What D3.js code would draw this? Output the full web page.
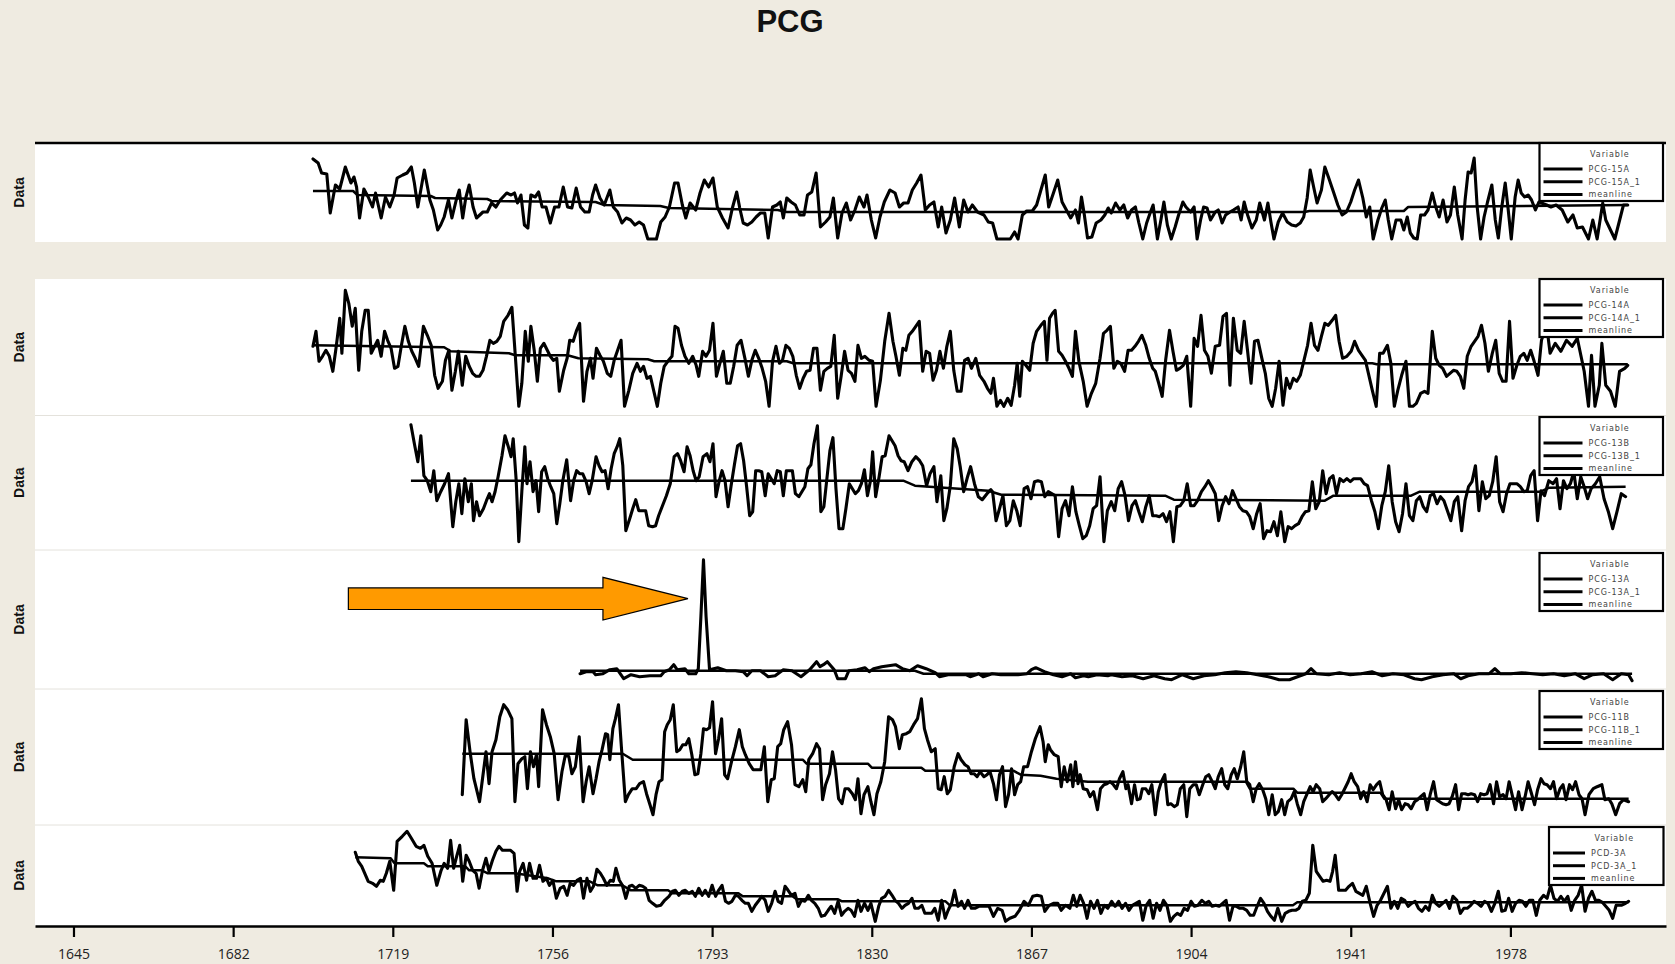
<!DOCTYPE html>
<html><head><meta charset="utf-8">
<script src="https://cdn.jsdelivr.net/npm/d3@7"></script>
<style>
html,body{margin:0;padding:0;background:#EFEBE1;}
svg{display:block;}
</style></head>
<body>
<svg id="chart" width="1675" height="964"></svg>
<script>
// ---------------- DATA ----------------
const chartTitle = "PCG";
const yLabel = "Data";
const tickYears = [1645,1682,1719,1756,1793,1830,1867,1904,1941,1978];
const seriesNames = ["PCG-15A","PCG-14A","PCG-13B","PCG-13A","PCG-11B","PCD-3A"];

const PCG15A = [[1700.5,81],[1701.7,77],[1702.5,67],[1703.7,66],[1704.5,27],[1705.7,55],[1706.7,51],[1708,73],[1709.3,57],[1710,63],[1710.6,53],[1711.3,22],[1712.3,51],[1713.3,43],[1714.3,33],[1715,47],[1716.3,22],[1717.3,43],[1718.3,33],[1719.3,45],[1720,62],[1721.3,65],[1722.3,67],[1723.3,73],[1724,57],[1724.8,33],[1726.3,70],[1727.6,40],[1728.4,30],[1729.4,10],[1730.1,15],[1730.9,23],[1731.9,40],[1732.7,22],[1733.7,40],[1734.4,50],[1735.2,22],[1735.9,42],[1736.7,55],[1737.6,33],[1738.4,22],[1739.9,28],[1740.9,28],[1741.9,37],[1742.9,33],[1743.9,40],[1745.4,47],[1746.4,45],[1747.2,47],[1747.9,37],[1748.7,45],[1749.5,15],[1750.3,12],[1751,45],[1752,43],[1752.8,48],[1753.6,33],[1754.5,33],[1755.5,17],[1756.5,33],[1757.5,33],[1758.5,53],[1759.5,33],[1760.5,32],[1761.5,52],[1762.5,33],[1763.5,28],[1764.5,28],[1765.3,45],[1766,55],[1767,42],[1768,35],[1769.3,50],[1770.1,33],[1771.1,28],[1772.1,17],[1773.1,22],[1774.1,20],[1775.1,15],[1776.1,18],[1777.1,15],[1778.1,1],[1779.3,1],[1780.1,1],[1781.1,18],[1782.1,23],[1783.1,33],[1784.3,57],[1785.1,57],[1786.1,35],[1786.9,22],[1787.9,37],[1789.2,30],[1790.2,47],[1791.2,60],[1792.2,53],[1793.2,62],[1794.2,33],[1795.4,22],[1796.7,12],[1797.7,32],[1798.7,48],[1799.4,32],[1800.2,17],[1801.2,15],[1802.2,18],[1803.2,23],[1804.2,27],[1805.2,27],[1806,2],[1807,33],[1808,35],[1808.8,38],[1809.5,22],[1810.3,42],[1811.3,38],[1812.3,35],[1813.3,25],[1814.3,25],[1815.1,45],[1816.1,48],[1817.1,67],[1818.1,13],[1819.3,18],[1820.3,23],[1821.1,42],[1822.1,2],[1823.1,27],[1824.1,37],[1825.1,20],[1826.1,30],[1827.1,43],[1828.2,33],[1828.9,45],[1829.9,20],[1830.9,2],[1831.9,23],[1832.9,38],[1834.2,50],[1835.4,47],[1836.4,33],[1837.4,37],[1838.4,37],[1839.4,50],[1840.4,57],[1841.4,65],[1842.4,30],[1843.4,35],[1844.4,38],[1845.4,13],[1846.2,33],[1847.2,7],[1848.2,20],[1849.2,42],[1850.3,13],[1851.3,40],[1852.3,28],[1853.3,35],[1854.5,28],
[1856,25],[1857,18],[1858,17],[1859,1],[1860.5,1],[1862.1,1],[1863.1,8],[1863.9,1],[1864.9,25],[1865.9,29],[1867.2,29],[1868.2,35],[1869.2,50],[1870.2,65],[1871,33],[1872.1,47],[1873.1,60],[1874.1,38],[1875.1,30],[1876.1,22],[1877.2,30],[1877.9,17],[1878.6,43],[1879.2,27],[1880,2],[1881,3],[1882,17],[1883.1,20],[1884,25],[1884.8,32],[1885.5,27],[1886.5,37],[1887.5,30],[1888.4,35],[1889.3,22],[1890.2,30],[1891.1,33],[1891.9,17],[1892.8,1],[1893.7,17],[1894.5,27],[1895.2,35],[1896.2,1],[1897,20],[1897.7,38],[1898.5,15],[1899.4,1],[1900.3,13],[1901.1,25],[1902.1,38],[1902.8,33],[1903.9,28],[1904.7,33],[1905.4,1],[1906.2,20],[1906.9,33],[1907.7,32],[1908.5,20],[1909.6,28],[1910.3,30],[1911.2,17],[1912,25],[1913,28],[1913.8,30],[1914.9,33],[1915.6,20],[1916.3,38],[1917.1,25],[1918.1,12],[1919.1,20],[1919.9,37],[1921,20],[1921.8,37],[1922.5,18],[1923.2,1],[1924.2,18],[1925.2,27],[1926.3,18],[1927.3,15],[1928.3,14],[1929.3,17],[1930.1,23],[1930.9,42],[1931.6,70],[1932.4,53],[1933.2,37],[1934.2,50],[1935,73],[1935.9,62],[1937,48],[1938,35],[1939,25],[1940,28],[1941,38],[1941.9,50],[1942.8,60],[1943.8,42],[1944.6,23],[1945.4,33],[1946.2,1],[1947.3,20],[1948.2,32],[1949,40],[1949.7,20],[1950.5,1],[1951.5,20],[1952.6,20],[1953.3,10],[1954.1,23],[1954.8,7],[1955.6,2],[1956.4,1],[1957.2,25],[1958.1,25],[1958.9,30],[1959.9,47],[1960.7,33],[1961.5,23],[1962.4,40],[1963.3,18],[1964.1,25],[1965,53],[1965.8,25],[1966.8,1],[1967.5,40],[1968.2,68],[1968.9,67],[1969.6,82],[1970.3,33],[1971.1,1],[1971.9,23],[1972.7,38],[1973.7,55],[1974.5,20],[1975.2,2],[1976,33],[1976.8,57],[1977.5,30],[1978.2,1],[1979.1,43],[1979.8,60],[1980.5,47],[1981.3,43],[1982.1,45],[1982.9,40],[1983.8,30],[1984.6,38],[1986.4,35],[1987.4,33],[1988.6,35],[1990,30],[1991.3,18],[1992.5,25],[1993.5,12],[1994.7,13],[1996.1,1],[1997.1,20],[1998.1,1],[1999.4,37],[2000.1,20],[2001.2,10],[2002.2,1],[2003.2,18],[2004.2,35],[2005.2,35]];
const PCG15A_mean = [[1700.5,49],[1709.8,49],[1710.8,45],[1727.8,44],[1728.8,42],[1740.9,41],[1741.9,39],[1766,38],[1768,35],[1781,34],[1783,32],[1808.2,30],[1810.3,28],[1930.3,28],[1931.4,29],[1953.3,29],[1954.3,33],[2005.2,35]];

const PCG14A = [[1700.5,62],[1701.2,77],[1701.9,47],[1702.7,52],[1703.5,58],[1704.3,52],[1705.1,37],[1705.9,62],[1706.7,90],[1707.2,55],[1708,118],[1708.8,105],[1709.6,82],[1710.3,100],[1711.1,38],[1711.8,77],[1712.6,98],[1713.3,98],[1714,55],[1714.8,62],[1715.5,68],[1716.3,52],[1717.1,77],[1717.8,68],[1718.6,60],[1719.4,40],[1720.2,42],[1721,63],[1721.8,82],[1722.6,67],[1723.4,57],[1724.2,50],[1725,42],[1726.1,82],[1727,73],[1727.9,63],[1728.7,33],[1729.5,20],[1730.5,27],[1731.2,48],[1732,58],[1732.7,18],[1733.5,37],[1734.2,57],[1735.1,23],[1735.9,52],[1736.7,42],[1737.5,35],[1738.3,32],[1739.1,32],[1739.9,38],[1740.7,52],[1741.5,68],[1742.3,65],[1743.1,67],[1743.9,72],[1744.7,87],[1745.7,93],[1746.6,101],[1747.4,52],[1748.2,2],[1748.9,25],[1749.7,77],[1750.4,47],[1751,82],[1751.8,57],[1752.5,27],[1753.2,60],[1754,65],[1754.8,58],[1755.5,52],[1756.2,48],[1757,50],[1757.6,17],[1758.6,38],[1759.4,50],[1760,68],[1760.8,67],[1761.6,78],[1762.3,85],[1763.2,7],[1764,37],[1764.8,50],[1765.4,30],[1766.2,60],[1767,53],[1767.8,47],[1768.7,35],[1769.5,32],[1770.3,48],[1771.1,58],[1771.9,68],[1772.7,2],[1773.7,18],[1774.6,35],[1775.6,45],[1776.4,37],[1777.1,42],[1777.9,30],[1778.7,32],[1779.5,17],[1780.3,2],[1781.1,25],[1781.9,42],[1782.9,48],[1783.7,52],[1784.4,82],[1785.1,80],[1785.9,63],[1786.7,52],[1787.6,45],[1788.5,52],[1789.3,43],[1789.9,32],[1790.8,57],[1791.6,52],[1792.4,58],[1793.2,85],[1794,32],[1794.8,45],[1795.6,57],[1796.4,25],[1797.2,25],[1798,42],[1798.8,63],[1799.7,68],[1800.6,50],[1801.4,32],[1802.2,48],[1803,58],[1803.8,50],[1804.6,40],[1805.4,27],[1806.2,2],[1807,47],[1807.8,62],[1808.6,45],[1809.3,48],[1810.1,63],[1810.9,60],[1811.7,52],[1812.5,33],[1813.3,20],[1814.1,30],[1814.9,37],[1815.7,38],[1816.5,60],[1817.3,60],[1818.1,18],[1818.9,37],[1819.7,40],[1820.5,42],[1821.3,73],[1822.1,10],[1822.9,32],[1823.7,57],[1824.5,38],[1825.3,35],[1826.1,27],[1826.8,63],[1827.6,50],[1828.4,52],[1829.4,48],[1830.2,47],[1831,2],[1832,28],[1833,67],[1834,95],[1834.9,67],[1835.6,52],[1836.4,33],[1837.2,60],[1837.9,58],[1838.6,73],[1839.4,77],[1840.2,82],[1841,87],[1841.8,37],[1842.6,57],[1843.4,55],[1844.2,28],[1845,38],[1845.8,57],[1846.6,40],[1847.4,62],[1848.2,77],[1849,38],[1849.8,17],[1850.7,17],[1851.5,48],[1852.3,50],[1853.1,40],[1854.1,50],[1855,33],
[1856,27],[1856.8,20],[1857.6,15],[1858.2,30],[1859,2],[1859.8,8],[1860.6,2],[1861.5,10],[1862.3,3],[1863.1,23],[1863.7,45],[1864.3,12],[1864.9,47],[1865.7,43],[1866.6,38],[1867.4,65],[1868.2,77],[1869.2,83],[1870,87],[1870.6,48],[1871.2,90],[1871.9,95],[1872.5,98],[1873.3,57],[1874.1,53],[1874.9,47],[1875.7,40],[1876.5,32],[1877.2,77],[1878,47],[1879,27],[1879.9,2],[1880.9,15],[1881.9,25],[1882.9,50],[1883.7,75],[1884.5,78],[1885.3,82],[1886.1,40],[1886.9,47],[1887.7,45],[1888.6,37],[1889.4,58],[1890.2,58],[1891,62],[1891.8,67],[1892.6,73],[1893.5,63],[1894.3,50],[1895.1,40],[1895.7,37],[1896.5,25],[1897.3,12],[1898.1,48],[1899,78],[1899.8,57],[1900.6,38],[1901.4,40],[1902.2,43],[1903,52],[1903.9,2],[1904.7,70],[1905.5,62],[1906.3,93],[1907.1,58],[1907.9,52],[1908.7,35],[1909.6,62],[1910.6,63],[1911.4,92],[1912.2,95],[1913,23],[1913.8,90],[1914.7,58],[1915.5,55],[1916.3,87],[1917.1,57],[1917.9,25],[1918.7,67],[1919.5,68],[1920.4,50],[1921.2,35],[1922,10],[1922.8,2],[1923.6,20],[1924.4,47],[1925.3,3],[1926.1,30],[1926.9,20],[1927.7,30],[1928.5,27],[1929.3,33],[1930.1,47],[1931,63],[1931.8,85],[1932.6,63],[1933.4,58],[1934.2,72],[1935,85],[1935.8,83],[1936.7,88],[1937.5,93],[1938.3,67],[1939.1,50],[1940.1,52],[1941.1,57],[1941.9,67],[1942.8,58],[1943.6,53],[1944.4,48],[1945.2,33],[1946,18],[1946.9,2],[1947.7,55],[1948.5,55],[1949.5,63],[1950.3,45],[1951.1,2],[1951.9,18],[1952.8,33],[1953.8,47],[1954.6,2],[1955.4,2],[1956.2,5],[1957.2,15],[1958.1,17],[1958.9,15],[1959.9,77],[1960.7,50],[1961.5,43],[1962.3,40],[1963.2,32],[1964,35],[1964.8,38],[1965.6,37],[1966.4,32],[1967.2,20],[1968,52],[1968.9,62],[1969.7,67],[1970.5,72],[1971.3,83],[1972.1,65],[1972.9,37],[1973.8,55],[1974.6,68],[1975.4,35],[1976.2,27],[1977,27],[1977.8,87],[1978.6,30],[1979.5,43],[1980.3,52],[1981.1,55],[1981.9,48],[1982.7,58],[1983.5,47],[1984.4,33],[1985.2,68],[1986.4,83],[1987.2,55],[1988.4,65],[1989.7,57],[1991,68],[1992.3,62],[1993.5,70],[1995.1,37],[1996.1,2],[1996.8,53],[1997.6,2],[1998.6,23],[1999.2,65],[2000.1,23],[2001.2,17],[2002.3,2],[2003.3,37],[2004.5,40],[2005.2,43]];
const PCG14A_mean = [[1700.5,63],[1730.9,61],[1732.4,57],[1745.9,55],[1747.4,53],[1759.5,53],[1762,50],[1778.1,49],[1779.6,47],[1810.3,47],[1811.8,45],[1946,45],[1947,44],[2005.2,44]];

const PCG13B = [[1723.2,119],[1724,100],[1724.8,82],[1725.5,108],[1726.2,68],[1727,63],[1727.8,52],[1728.5,73],[1729.2,43],[1730.1,52],[1731,60],[1731.9,70],[1732.9,17],[1733.6,42],[1734.3,60],[1735,30],[1735.7,65],[1736.5,42],[1737.2,60],[1737.7,23],[1738.4,42],[1739.1,28],[1740,35],[1740.7,43],[1741.4,50],[1742,42],[1742.7,52],[1743.4,67],[1744.3,88],[1745,108],[1745.7,98],[1746.4,87],[1746.9,105],[1747.6,63],[1748.2,2],[1748.9,52],[1749.6,97],[1750.1,60],[1750.8,82],[1751.5,52],[1752.2,63],[1752.8,32],[1753.5,72],[1754.2,77],[1754.9,65],[1755.6,57],[1756.3,50],[1757,20],[1757.7,40],[1758.4,63],[1759.3,84],[1760.2,43],[1760.9,63],[1761.6,73],[1762.3,70],[1763,70],[1763.8,62],[1764.5,50],[1765.2,63],[1766.1,87],[1766.8,78],[1767.5,72],[1768.2,73],[1768.9,55],[1769.6,75],[1770.3,90],[1771,97],[1771.6,105],[1772.3,78],[1773,13],[1773.9,25],[1774.6,35],[1775.3,44],[1776,33],[1776.7,33],[1777.6,33],[1778.3,18],[1779.2,17],[1779.9,18],[1780.6,28],[1781.5,38],[1782.4,48],[1783.3,60],[1784.2,87],[1785,90],[1785.7,83],[1786.5,72],[1787.2,97],[1787.9,88],[1788.6,73],[1789.3,63],[1790,67],[1790.9,87],[1791.8,90],[1792.5,82],[1793.2,100],[1793.9,47],[1794.6,62],[1795.3,73],[1796,63],[1796.7,37],[1797.4,58],[1798.2,80],[1798.9,98],[1799.6,100],[1800.3,83],[1801,57],[1801.7,28],[1802.4,32],[1803.1,73],[1803.8,73],[1804.5,72],[1805.3,48],[1806,70],[1806.7,65],[1807.4,60],[1808.1,73],[1808.8,72],[1809.5,48],[1810.2,73],[1810.9,73],[1811.6,73],[1812.3,50],[1813.1,47],[1813.8,52],[1814.5,57],[1815.2,75],[1815.9,79],[1816.6,100],[1817.4,118],[1818.2,32],[1818.9,37],[1819.6,65],[1820.3,93],[1821,106],[1821.7,55],[1822.4,15],[1823.3,15],[1824,35],[1824.8,60],[1825.5,55],[1826.2,50],[1826.9,53],[1827.6,60],[1828.3,74],[1829,48],[1829.7,63],[1830.2,92],[1830.9,47],[1831.7,67],[1832.4,87],[1833.1,88],[1834,108],[1834.7,103],[1835.4,98],[1836.1,88],[1836.8,83],[1837.5,82],[1838.4,73],[1839.3,82],[1840.2,87],[1841.1,83],[1841.8,78],[1842.7,58],[1843.5,70],[1844.4,77],[1845.1,42],[1846,68],[1846.7,23],[1847.4,35],[1848.2,58],[1849,105],[1849.8,95],[1850.5,77],[1851.3,52],[1852.2,67],[1852.9,77],[1853.8,60],[1854.7,47],[1855.6,44],[1856.7,50],[1857.6,54],
[1858,52],[1858.8,23],[1859.6,35],[1860.4,48],[1861.2,18],[1862,23],[1862.8,43],[1863.6,33],[1864.4,18],[1865.3,55],[1866.1,57],[1866.9,45],[1867.7,62],[1868.5,63],[1869.3,62],[1870.1,47],[1870.9,52],[1871.7,50],[1872.5,48],[1873.3,7],[1874.1,35],[1874.9,43],[1875.7,28],[1876.5,57],[1877.3,32],[1878.1,18],[1878.9,5],[1879.7,8],[1880.5,18],[1881.3,35],[1882.1,38],[1882.9,67],[1883.8,2],[1884.6,33],[1885.5,42],[1886.3,33],[1887.1,55],[1887.9,62],[1888.7,48],[1889.5,23],[1890.3,38],[1891.1,43],[1891.9,32],[1892.7,22],[1893.5,37],[1894.3,48],[1895.1,28],[1895.9,28],[1896.7,27],[1897.5,30],[1898.3,22],[1899.1,32],[1899.9,2],[1900.7,37],[1901.5,38],[1902.3,43],[1903.1,60],[1903.9,38],[1904.7,38],[1905.5,43],[1906.4,52],[1907.2,57],[1908,63],[1908.8,57],[1909.6,50],[1910.4,23],[1911.2,38],[1912,47],[1912.8,40],[1913.6,53],[1914.4,45],[1915.2,37],[1916,33],[1916.8,32],[1917.6,27],[1918.4,15],[1919.2,30],[1920,40],[1920.8,5],[1921.6,13],[1922.4,12],[1923.2,22],[1924,8],[1924.8,32],[1925.7,2],[1926.5,17],[1927.3,15],[1928.1,18],[1928.9,20],[1929.7,27],[1930.5,32],[1931.3,33],[1932.1,62],[1932.9,35],[1933.7,42],[1934.5,73],[1935.3,50],[1936.1,65],[1936.9,68],[1937.7,50],[1938.5,65],[1939.3,62],[1940.1,65],[1940.9,62],[1941.7,65],[1942.5,65],[1943.3,65],[1944.1,60],[1944.9,58],[1945.8,43],[1946.6,32],[1947.4,15],[1948.2,38],[1949,52],[1949.8,78],[1950.6,42],[1951.4,22],[1952.2,12],[1953,30],[1953.8,60],[1954.6,28],[1955.4,23],[1956.2,43],[1957,47],[1957.8,37],[1958.6,32],[1959.4,48],[1960.2,50],[1961,40],[1961.8,47],[1962.6,43],[1963.4,33],[1964.2,23],[1965,42],[1965.8,47],[1966.7,13],[1967.5,43],[1968.3,57],[1969.1,62],[1969.9,78],[1970.7,33],[1971.5,62],[1972.3,45],[1973.1,48],[1973.9,62],[1974.7,87],[1975.5,42],[1976.3,32],[1977.1,50],[1977.9,60],[1978.7,60],[1979.5,60],[1980.3,57],[1981.1,52],[1981.9,53],[1982.7,68],[1983.5,73],[1984.3,23],[1985.1,53],[1985.9,48],[1986.9,63],[1987.9,60],[1988.7,65],[1989.5,35],[1990.3,63],[1991.1,55],[1991.9,60],[1992.7,72],[1993.5,45],[1994.3,67],[1995.1,57],[1995.9,45],[1996.7,55],[1997.7,60],[1998.7,67],[1999.7,45],[2000.7,32],[2001.7,15],[2002.7,32],[2003.7,50],[2004.7,47]];
const PCG13B_mean = [[1723.2,63],[1837.3,63],[1840,58],[1857,53],[1860,49],[1898,48],[1900,44],[1935,43],[1937,48],[1955,48],[1957,52],[1985,52],[1987,56],[2004.7,57]];

const PCG13A = [[1762.4,8],[1763.8,10],[1765.4,10],[1766,7],[1767.7,8],[1769.3,12],[1770.9,13],[1772.5,3],[1774.2,7],[1776.2,5],[1778.6,6],[1781.1,6],[1781.9,10],[1783.1,12],[1784.1,17],[1784.9,12],[1786.7,13],[1787.6,8],[1789.2,8],[1789.8,13],[1790.4,65],[1791,122],[1791.6,65],[1792.4,12],[1794.3,14],[1796.3,11],[1798.4,11],[1800.2,10],[1801.1,6],[1802.2,11],[1804.2,11],[1806,5],[1807.6,6],[1809.5,12],[1811.5,11],[1813.6,5],[1815.6,12],[1817.2,20],[1818,15],[1818.8,17],[1819.7,20],[1821.3,12],[1822.1,3],[1823.9,3],[1824.7,11],[1826.6,12],[1828.4,14],[1829.4,10],[1830.4,13],[1832.3,15],[1833.9,16],[1835.5,17],[1837.1,13],[1838.8,11],[1840.6,16],[1842.6,13],[1844.7,9],[1845.7,5],[1847.7,7],[1849.7,7],[1851.8,7],[1852.8,5],[1854.8,8],[1855.8,5],[1857.9,8],[1859.9,7],[1861.9,7],[1863.9,7],[1866,8],[1867,12],[1868,14],[1870,10],[1872.1,7],[1874.1,5],[1876.1,8],[1877.2,4],[1879.1,6],[1880.2,5],[1882.2,7],[1884.7,6],
[1885.5,7],[1888,5],[1890.4,6],[1892.9,3],[1895.4,6],[1897.9,3],[1899.5,2],[1902,7],[1904.5,3],[1907,6],[1909.5,7],[1911.9,9],[1914.4,10],[1916.9,9],[1919.4,7],[1921.9,5],[1924.4,2],[1926.8,2],[1929.3,6],[1930.6,8],[1931.8,13],[1933,8],[1935.9,7],[1938.4,9],[1940.9,7],[1943.4,8],[1945.9,10],[1948.3,6],[1950.8,8],[1953.3,7],[1955.8,3],[1957.4,2],[1959.9,5],[1962.4,7],[1964.9,8],[1966.5,3],[1968.2,6],[1970.7,8],[1973.1,8],[1974.4,13],[1975.6,8],[1978.1,8],[1980.6,9],[1983.1,8],[1985.5,7],[1988,8],[1990.5,6],[1993,8],[1995.1,3],[1997.1,7],[1999.6,8],[2001.7,2],[2003.7,8],[2005.4,7],[2006.2,1]];
const PCG13A_mean = [[1762.4,11],[1840,11],[1842,8],[2006.2,8]];

const PCG11B = [[1735.1,22],[1736,97],[1736.9,65],[1737.8,38],[1739.1,15],[1740,45],[1740.6,65],[1741.3,33],[1742,65],[1742.9,77],[1743.8,100],[1744.7,112],[1745.6,107],[1746.6,98],[1747.3,15],[1748,53],[1748.9,58],[1749.6,60],[1750.2,28],[1750.9,65],[1751.6,50],[1752.3,62],[1752.8,30],[1753.7,107],[1754.6,92],[1755.5,80],[1756.4,63],[1757.3,17],[1758.2,45],[1759,62],[1759.8,60],[1760.5,43],[1761.3,50],[1762.2,80],[1763.1,15],[1763.8,35],[1764.5,50],[1765.4,23],[1766.1,38],[1766.8,55],[1767.5,67],[1768.3,83],[1768.8,82],[1769.3,57],[1770,88],[1770.6,98],[1771.3,112],[1772,68],[1772.9,15],[1773.6,22],[1774.5,28],[1775.4,28],[1776.2,33],[1777.1,35],[1777.8,23],[1778.6,12],[1779.3,2],[1780,22],[1780.7,35],[1781.4,37],[1782,85],[1782.6,92],[1783.3,97],[1784,112],[1784.8,65],[1785.5,67],[1786.2,72],[1786.9,72],[1787.6,78],[1788.3,62],[1789,42],[1789.7,43],[1790.4,63],[1791,88],[1791.7,87],[1792.4,89],[1793.1,115],[1793.8,63],[1794.5,78],[1795.2,98],[1795.9,42],[1796.6,38],[1797.5,55],[1798.4,70],[1799.3,87],[1800,70],[1800.7,62],[1801.6,53],[1802.5,47],[1803.4,47],[1804.3,47],[1805.1,70],[1805.9,15],[1806.7,37],[1807.4,38],[1808.2,70],[1808.9,73],[1809.6,87],[1810.5,95],[1811.4,72],[1812.2,32],[1813.1,30],[1814,37],[1814.7,25],[1815.4,57],[1816.3,63],[1817.2,73],[1817.9,68],[1818.6,17],[1819.3,32],[1820.2,43],[1820.9,65],[1821.6,47],[1822.3,18],[1823.1,13],[1823.8,28],[1824.6,28],[1825.5,23],[1826.2,17],[1826.8,38],[1827.5,3],[1828.2,22],[1829.1,30],[1829.8,15],[1830.5,2],[1831.2,23],[1832.1,35],[1833,55],[1833.9,100],[1834.8,97],[1835.5,90],[1836.4,68],[1837.1,82],[1838,83],[1838.8,85],[1839.7,92],[1840.6,98],[1841.5,118],[1842.2,88],[1842.9,77],[1843.8,65],[1844.7,68],[1845.4,28],[1846.1,27],[1846.8,40],[1847.5,23],[1848.2,27],[1849.1,50],[1850,63],[1850.7,57],[1851.6,52],[1852.3,50],[1853,43],[1853.7,43],[1854.4,40],[1855.1,45],[1856,40],[1856.7,42],[1857.4,45],[1858.2,33],[1858.9,17],[1859.6,42],[1860.3,50],[1861,10],[1861.7,22],[1862.4,48],[1863.1,22],[1863.8,32],[1864.5,35],[1865.2,50],[1866.1,50],[1867,65],[1867.9,78],[1869,90],[1869.7,75],[1870.2,55],[1870.9,72],
[1871.4,67],[1872.3,62],[1873.2,60],[1873.9,30],[1874.6,50],[1875.3,35],[1876.1,52],[1876.6,30],[1877.2,55],[1877.8,33],[1878.3,42],[1879,28],[1879.9,27],[1880.6,20],[1881.4,25],[1882.3,7],[1883,28],[1883.8,32],[1884.5,33],[1885.2,35],[1886,32],[1886.7,28],[1887.4,38],[1888.2,45],[1888.9,28],[1889.4,32],[1890.2,13],[1890.9,32],[1891.5,17],[1892.2,18],[1892.7,28],[1893.5,28],[1894.2,23],[1894.9,32],[1895.7,2],[1896.4,25],[1897.1,35],[1897.9,42],[1898.6,12],[1899.3,13],[1900.1,10],[1900.8,12],[1901.5,28],[1902.3,32],[1903,0],[1903.7,28],[1904.5,32],[1905.2,32],[1905.9,22],[1906.7,32],[1907.4,40],[1908.1,42],[1908.9,35],[1909.6,28],[1910.3,40],[1911.1,48],[1911.8,32],[1912.5,28],[1913.3,42],[1914,48],[1914.7,38],[1915.5,50],[1916.2,65],[1916.9,35],[1917.6,32],[1918.4,15],[1919.1,28],[1919.8,33],[1920.6,27],[1921.3,18],[1922,2],[1922.8,22],[1923.5,2],[1924.2,5],[1925,17],[1925.7,2],[1926.4,15],[1927.2,18],[1927.9,25],[1928.6,13],[1929.4,2],[1930.1,15],[1930.8,22],[1931.6,30],[1932.3,25],[1933,32],[1933.8,28],[1934.5,15],[1935.2,18],[1936,22],[1936.7,25],[1937.4,22],[1938.2,17],[1938.9,22],[1939.6,28],[1940.4,35],[1941.1,43],[1941.8,35],[1942.6,30],[1943.3,18],[1944,25],[1944.8,15],[1945.5,32],[1946.2,27],[1947,32],[1947.7,35],[1948.4,22],[1949.2,17],[1949.9,7],[1950.6,25],[1951.4,8],[1952.1,17],[1952.8,7],[1953.6,13],[1954.3,12],[1955,8],[1955.8,15],[1956.5,17],[1957.2,20],[1958,23],[1958.7,7],[1959.4,22],[1960.2,35],[1960.9,17],[1961.6,15],[1962.3,13],[1963.1,12],[1963.8,13],[1964.5,20],[1965.3,32],[1966,7],[1966.7,23],[1967.5,23],[1968.2,22],[1968.9,23],[1969.7,22],[1970.4,15],[1971.1,23],[1971.9,22],[1972.6,23],[1973.3,32],[1974.1,13],[1974.8,35],[1975.5,20],[1976.3,22],[1977,18],[1977.7,35],[1978.5,20],[1979.2,7],[1979.9,25],[1980.7,7],[1981.4,20],[1982.1,35],[1982.9,23],[1983.6,12],[1984.3,27],[1985.1,38],[1985.8,33],[1986.5,32],[1987.3,28],[1988,35],[1988.7,18],[1989.5,28],[1990.2,32],[1990.9,17],[1991.7,32],[1992.4,27],[1993.1,35],[1993.9,22],[1994.6,18],[1995.3,2],[1996.2,22],[1997.2,28],[1998.1,30],[1999.2,32],[1999.9,17],[2000.8,18],[2001.5,13],[2002.4,2],[2003.3,13],[2004.2,17],[2005.4,15]];
const PCG11B_mean = [[1735.1,63],[1772.3,63],[1774.6,57],[1814,57],[1814.9,53],[1829.1,53],[1830,49],[1841.5,49],[1842.4,46],[1862.8,46],[1864.5,42],[1869.1,41],[1872.8,38],[1880.1,35],[1916.7,35],[1917.6,28],[1927.7,28],[1928.6,24],[1947.9,24],[1948.8,18],[2005.4,18]];

const PCD3A = [[1710.3,71],[1711,62],[1711.8,57],[1712.5,50],[1713.3,42],[1714.3,40],[1715.2,37],[1716.1,43],[1716.8,42],[1717.5,50],[1718.3,62],[1719.2,33],[1720,82],[1721.2,87],[1722.3,92],[1723.3,85],[1724.4,77],[1725.4,75],[1726.2,78],[1727.1,67],[1728.1,60],[1729.2,38],[1730.2,53],[1730.9,60],[1731.7,55],[1732.4,83],[1733.1,55],[1733.8,67],[1734.5,78],[1735.2,42],[1736,68],[1736.7,62],[1737.5,53],[1738.3,50],[1739,35],[1739.8,53],[1740.6,65],[1741.3,52],[1742.1,63],[1742.9,72],[1743.6,77],[1744.4,73],[1745.4,73],[1746.3,73],[1747.1,70],[1747.8,32],[1748.4,52],[1749.2,60],[1750,43],[1750.7,60],[1751.5,45],[1752.3,45],[1753,58],[1753.8,42],[1754.6,45],[1755.3,38],[1756.1,43],[1756.9,25],[1757.8,35],[1758.6,37],[1759.4,28],[1760.1,40],[1760.9,38],[1761.7,43],[1762.5,45],[1763.2,25],[1764,45],[1764.8,32],[1765.5,37],[1766.3,54],[1767.1,50],[1767.8,45],[1768.6,38],[1769.4,43],[1770.1,42],[1770.7,55],[1771.5,43],[1772.2,38],[1773,25],[1773.8,37],[1774.5,38],[1775.3,35],[1776.1,38],[1776.9,37],[1777.6,35],[1778.4,23],[1779.2,20],[1780.1,17],[1781.1,18],[1782,23],[1783,27],[1783.8,32],[1784.5,33],[1785.3,28],[1786.1,32],[1786.8,33],[1787.6,30],[1788.4,32],[1789.1,27],[1789.9,35],[1790.7,28],[1791.4,33],[1792.2,27],[1793,38],[1793.8,27],[1794.5,33],[1795.3,38],[1796.1,22],[1796.8,20],[1797.6,22],[1798.4,28],[1799.1,27],[1799.9,23],[1800.7,20],[1801.4,20],[1802.2,12],[1803,18],[1803.7,22],[1804.5,27],[1805.3,23],[1806,12],[1806.8,20],[1807.6,32],[1808.3,22],[1809.1,20],[1809.9,37],[1810.6,33],[1811.4,28],[1812.2,30],[1813,17],[1813.7,23],[1814.5,22],[1815.3,28],[1816,23],[1816.8,20],[1817.6,15],[1818.3,7],[1819.1,8],[1819.9,13],[1820.6,17],[1821.4,10],[1822.2,22],[1823,8],[1823.7,12],[1824.5,15],[1825.2,13],[1826,7],[1826.8,23],[1827.5,12],[1828.3,20],[1829.1,13],[1829.8,20],[1830.8,2],[1831.6,17],[1832.3,25],[1833.1,27],[1833.9,33],[1834.7,28],[1835.4,23],[1836.2,20],[1837,15],[1837.7,18],[1838.5,20],[1839.3,25],[1840,15],[1840.8,15],[1841.6,18],[1842.3,10],[1843.1,10],[1843.9,10],[1844.6,15],[1845.4,3],[1846.2,23],[1847,5],[1847.7,13],[1848.5,20],[1849.2,33],[1850,17],[1850.8,22],[1851.5,15],[1852.3,23],[1853.1,15],[1853.9,15],[1854.8,17],[1855.8,17],[1857.2,17],
[1858.2,7],[1859.2,15],[1860.2,13],[1861,2],[1862,5],[1863.2,7],[1864.2,13],[1865.3,22],[1866.3,18],[1867.3,27],[1868.3,28],[1869.3,27],[1870.1,12],[1871.1,18],[1872.1,20],[1873.1,20],[1873.9,13],[1874.9,18],[1875.9,15],[1876.7,28],[1877.5,17],[1878.3,28],[1879.1,20],[1879.9,5],[1880.7,22],[1881.5,15],[1882.3,23],[1883.1,10],[1883.9,18],[1884.7,15],[1885.6,22],[1886.4,17],[1887.2,22],[1888,15],[1888.8,20],[1889.6,13],[1890.4,18],[1891.2,20],[1892,22],[1892.8,3],[1893.6,18],[1894.4,23],[1895.2,5],[1896,20],[1896.8,13],[1897.6,23],[1898.4,18],[1899.2,2],[1900,7],[1900.8,10],[1901.6,8],[1902.4,15],[1903.2,13],[1904,22],[1904.8,17],[1905.6,18],[1906.5,23],[1907.3,20],[1908.1,22],[1908.9,17],[1909.7,18],[1910.5,17],[1911.3,20],[1912.1,23],[1912.9,3],[1913.7,17],[1914.5,17],[1915.3,15],[1916.1,15],[1916.9,13],[1917.7,8],[1918.5,8],[1919.3,17],[1920.1,25],[1920.9,20],[1921.7,12],[1922.5,7],[1923.3,3],[1924.1,15],[1925,2],[1925.8,10],[1926.6,12],[1927.4,13],[1928.2,13],[1929,15],[1929.8,22],[1930.6,23],[1931.4,30],[1932.2,78],[1933,52],[1933.8,47],[1934.6,42],[1935.4,43],[1936.2,42],[1936.8,52],[1937.4,68],[1938.2,33],[1939,33],[1939.8,33],[1940.6,37],[1941.4,40],[1942.2,32],[1943,30],[1943.8,28],[1944.6,37],[1945.5,20],[1946.3,7],[1947.1,18],[1947.9,23],[1948.7,30],[1949.5,37],[1950.3,15],[1951.1,22],[1951.9,15],[1952.7,25],[1953.5,23],[1954.3,17],[1955.1,20],[1955.9,22],[1956.7,15],[1957.5,12],[1958.3,17],[1959.1,13],[1959.9,28],[1960.7,20],[1961.5,17],[1962.3,20],[1963.1,23],[1963.9,15],[1964.7,27],[1965.6,23],[1966.4,10],[1967.2,15],[1968,15],[1968.8,18],[1969.6,22],[1970.4,20],[1971.2,17],[1972,22],[1972.8,20],[1973.6,12],[1974.4,20],[1975.2,32],[1976,12],[1976.8,13],[1977.6,25],[1978.4,12],[1979.2,20],[1980,23],[1980.8,22],[1981.6,17],[1982.4,23],[1983.2,23],[1984,8],[1984.8,23],[1985.7,28],[1986.5,25],[1987.3,38],[1988.1,25],[1988.9,22],[1989.7,27],[1990.5,22],[1991.3,27],[1992.1,13],[1992.9,23],[1993.7,28],[1994.5,38],[1995.3,12],[1996.1,25],[1996.9,32],[1997.7,23],[1998.5,23],[1999.3,21],[2000.1,17],[2000.9,13],[2001.7,5],[2002.5,18],[2003.7,18],[2004.7,20],[2005.4,22]];
const PCD3A_mean = [[1710.3,66],[1718.5,65],[1719.4,60],[1726.2,60],[1727.1,57],[1735.8,57],[1736.7,53],[1739.6,53],[1741,50],[1747.3,50],[1755,45],[1756.9,42],[1764.6,42],[1766.5,38],[1772.2,38],[1774.2,33],[1782.8,33],[1783.8,30],[1799.1,30],[1800.1,27],[1811.6,27],[1812.6,24],[1822.2,24],[1823.1,22],[1847.1,22],[1848.1,18],[1927.6,18],[1928.6,21],[2005.4,21]];

const seriesData = [PCG15A, PCG14A, PCG13B, PCG13A, PCG11B, PCD3A];
const meanData = [PCG15A_mean, PCG14A_mean, PCG13B_mean, PCG13A_mean, PCG11B_mean, PCD3A_mean];

// annotation arrow (years, value in PCG-13A panel units)
const arrowStartYear = 1708.7, arrowHeadYear = 1767.7, arrowTipYear = 1787.4, arrowValue = 83;

// ---------------- LAYOUT ----------------
const W = 1675, H = 964;
const plotLeft = 35, plotRight = 1666;
const panels = [
  {top:143,   bottom:242,   base:240,   legTop:143, legX:1539.5, legW:123.5},
  {top:279,   bottom:415.5, base:408.3, legTop:279, legX:1539.5, legW:123.5},
  {top:415.5, bottom:550,   base:543.7, legTop:417, legX:1539.5, legW:123.5},
  {top:550,   bottom:689,   base:681.7, legTop:553, legX:1539.5, legW:123.5},
  {top:689,   bottom:825,   base:816.7, legTop:691, legX:1539.5, legW:123.5},
  {top:825,   bottom:926,   base:923.3, legTop:827, legX:1549,   legW:114.5}
];

const svg = d3.select("#chart");
svg.append("rect").attr("width",W).attr("height",H).attr("fill","#EFEBE1");

const x = d3.scaleLinear().domain([1636.08, 2014.06]).range([plotLeft, plotRight]);

// panel backgrounds
panels.forEach(p => {
  svg.append("rect").attr("x",plotLeft).attr("y",p.top).attr("width",plotRight-plotLeft)
     .attr("height",p.bottom-p.top).attr("fill","#ffffff");
});
// faint separators
panels.forEach((p,i) => {
  if (i < 2) return;
  svg.append("line").attr("x1",plotLeft).attr("x2",plotRight).attr("y1",p.top).attr("y2",p.top)
     .attr("stroke","#e4e2dc").attr("stroke-width",1);
});
// top bold border of first panel
svg.append("line").attr("x1",plotLeft).attr("x2",plotRight).attr("y1",143).attr("y2",143)
   .attr("stroke","#000").attr("stroke-width",2.5);

// title
svg.append("text").attr("x",790).attr("y",32).attr("text-anchor","middle")
   .attr("font-family","'Liberation Sans', Arial, sans-serif").attr("font-weight","bold")
   .attr("font-size",31).attr("fill","#111").text(chartTitle);

// lines
panels.forEach((p,i) => {
  const y = d3.scaleLinear().domain([0,100]).range([p.base, p.base-100]);
  const line = d3.line().x(d=>x(d[0])).y(d=>y(d[1]));
  svg.append("path").datum(seriesData[i]).attr("d",line)
     .attr("fill","none").attr("stroke","#000").attr("stroke-width",3.1)
     .attr("stroke-linejoin","round").attr("stroke-linecap","round");
  svg.append("path").datum(meanData[i]).attr("d",line)
     .attr("fill","none").attr("stroke","#000").attr("stroke-width",2.5)
     .attr("stroke-linejoin","round");

  // y label
  const cy = (p.top + p.bottom)/2;
  svg.append("text").attr("transform",`translate(24,${cy}) rotate(-90)`)
     .attr("text-anchor","middle").attr("font-family","'Liberation Sans', Arial, sans-serif")
     .attr("font-weight","bold").attr("font-size",14).attr("fill","#111").text(yLabel);

  // legend
  const g = svg.append("g");
  const lt = p.legTop;
  g.append("rect").attr("x",p.legX).attr("y",lt).attr("width",p.legW).attr("height",58)
   .attr("fill","#fff").attr("stroke","#000").attr("stroke-width",2.2);
  const tx = p.legX + (p.legW >= 120 ? 49 : 42);
  g.append("text").attr("x",p.legX + p.legW*0.57).attr("y",lt+14).attr("text-anchor","middle")
   .attr("font-family","'DejaVu Sans', sans-serif").attr("font-size",8).attr("letter-spacing",0.9)
   .attr("fill","#444").text("Variable");
  const labels = [seriesNames[i], seriesNames[i]+"_1", "meanline"];
  labels.forEach((lab,k) => {
    const ry = lt + 26 + k*12.7;
    g.append("line").attr("x1",p.legX+4).attr("x2",tx-6).attr("y1",ry).attr("y2",ry)
     .attr("stroke","#000").attr("stroke-width",3);
    g.append("text").attr("x",tx).attr("y",ry+3).attr("font-family","'DejaVu Sans', sans-serif")
     .attr("font-size",8).attr("letter-spacing",0.9).attr("fill","#444").text(lab);
  });
});

// annotation arrow in PCG-13A panel
{
  const p = panels[3];
  const y = d3.scaleLinear().domain([0,100]).range([p.base, p.base-100]);
  const cy = y(arrowValue), sh = 10.8, hh = 21.4;
  const x0 = x(arrowStartYear), xb = x(arrowHeadYear), xt = x(arrowTipYear);
  const pts = [[x0,cy-sh],[xb,cy-sh],[xb,cy-hh],[xt,cy],[xb,cy+hh],[xb,cy+sh],[x0,cy+sh]];
  svg.append("polygon").attr("points",pts.map(d=>d.join(",")).join(" "))
     .attr("fill","#FF9A00").attr("stroke","#000").attr("stroke-width",1.2);
}

// x axis
const axis = d3.axisBottom(x).tickValues(tickYears).tickFormat(d3.format("d"))
  .tickSizeInner(11).tickSizeOuter(0).tickPadding(12);
const ax = svg.append("g").attr("transform","translate(0,926)").call(axis);
ax.select(".domain").attr("stroke","#000").attr("stroke-width",2.5);
ax.selectAll(".tick line").attr("stroke","#000").attr("stroke-width",2.2);
ax.selectAll(".tick text").attr("font-family","'Open Sans', 'DejaVu Sans', sans-serif")
  .attr("font-size",14).attr("fill","#222");
</script>
</body></html>
